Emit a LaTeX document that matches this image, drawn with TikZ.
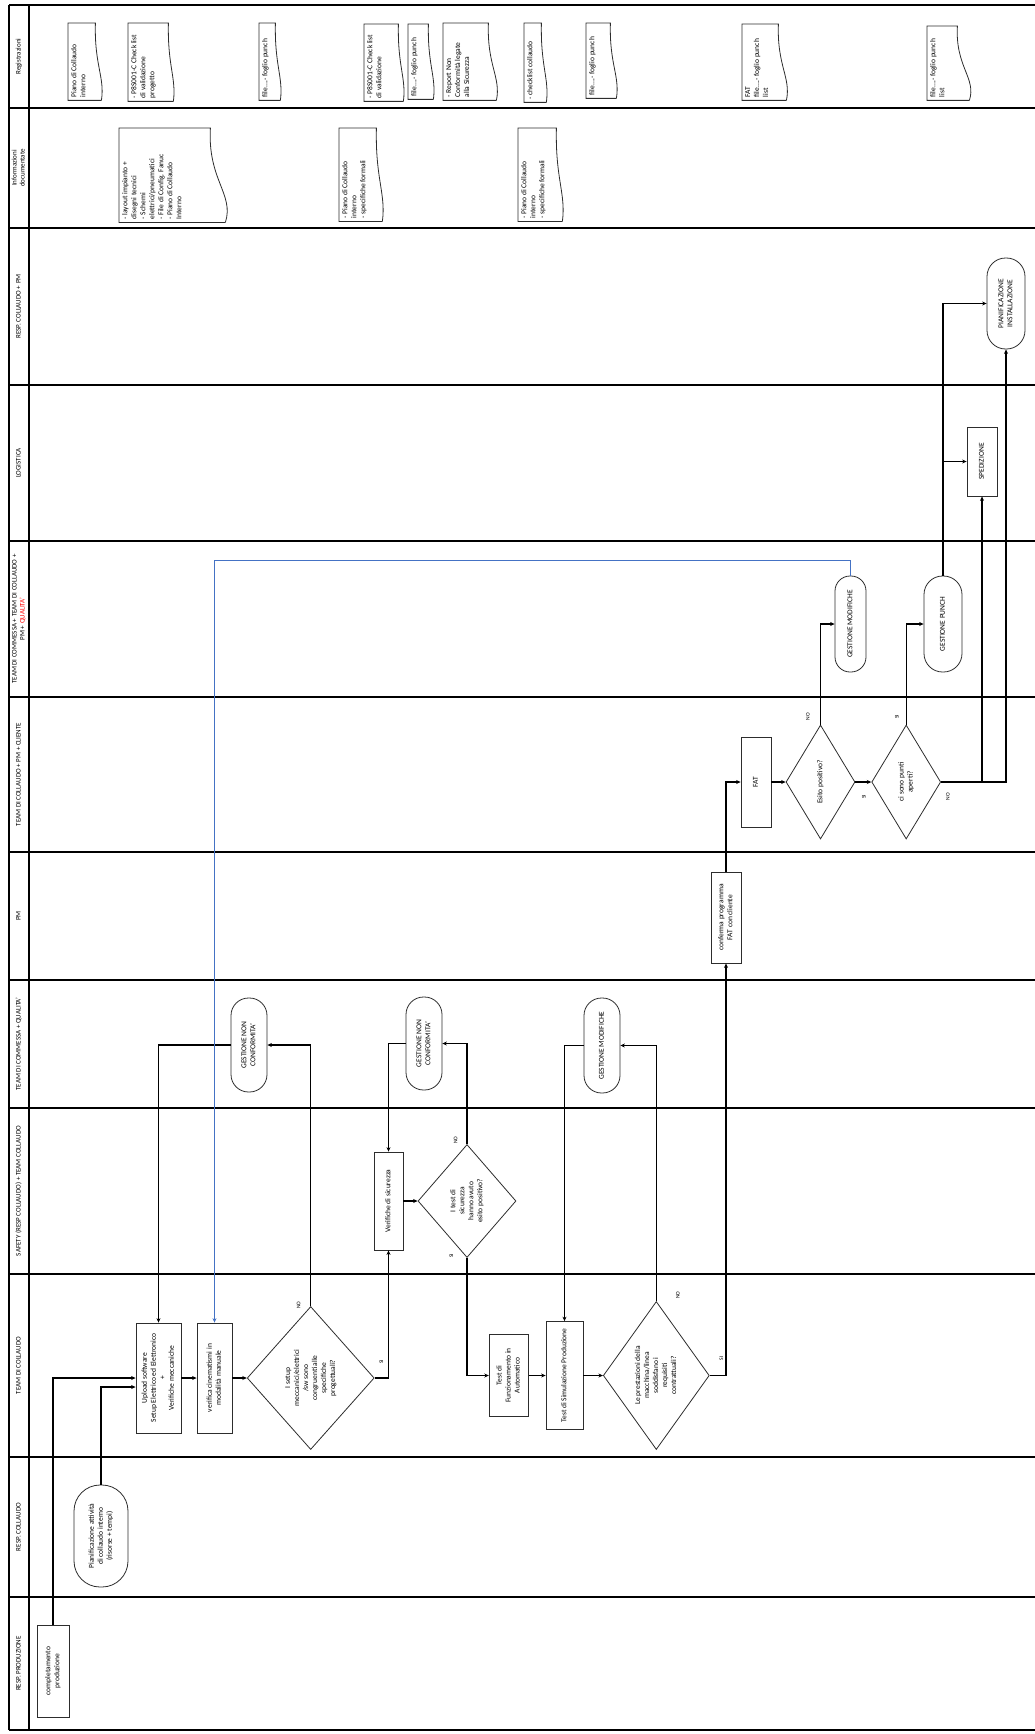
\documentclass[tikz,border=0pt]{standalone}
\usepackage{fontspec}
\setmainfont{Carlito}
\usepackage{xcolor}
\usepackage{graphicx}
\usepackage{tikz}
\usetikzlibrary{shapes.geometric, arrows.meta, calc}
\definecolor{mydark}{RGB}{0,0,0}
\definecolor{mygray}{RGB}{45,45,45}
\definecolor{myblue}{RGB}{68,114,196}
\definecolor{myred}{RGB}{255,0,0}
\newcommand{\rtext}[1]{\rotatebox{90}{\begin{tabular}{@{}c@{}}#1\end{tabular}}}
\newcommand{\doctxt}[3]{\rotatebox{90}{\parbox[c][#2pt][t]{#1pt}{\raggedright #3}}}
\tikzset{
  procbox/.style={rectangle, draw=mygray, fill=white, inner sep=1pt, line width=0.8pt},
  decision/.style={diamond, draw=mygray, fill=white, aspect=0.8, inner sep=0pt,
    line width=0.8pt},
  pill/.style={rectangle, draw=mygray, fill=white, inner sep=1pt, line width=0.8pt},
  docbox/.style={rectangle, anchor=north west, inner sep=3pt},
  docline/.style={draw=mygray, line width=0.8pt},
  lanelabel/.style={inner sep=0pt, font=\fontsize{7}{8}\selectfont},
  answer/.style={inner sep=0pt, font=\fontsize{5.5}{6.5}\selectfont},
  laneline/.style={line width=2.4pt, color=mydark},
  arrow/.style={-{Stealth[length=4.5pt, width=4pt]}, line width=1.3pt, color=mydark},
  bluearrow/.style={-{Stealth[length=4.5pt, width=4pt]}, line width=1.3pt, color=myblue}
}

\begin{document}
\begin{tikzpicture}[x=1pt, y=-1pt, font=\fontsize{7.5}{9}\selectfont, >=Stealth]
  \useasboundingbox (0,0) rectangle (1035,1734);

  % Swimlanes
  \foreach \y in {5,108,228,385,541,697,852,980,1108,1274,1457,1597,1730}
    \draw[laneline] (9,\y) -- (1035,\y);
  \draw[laneline] (9,5) -- (9,1730);
  \draw[laneline] (29,5) -- (29,1730);

  % Lane labels on left
  \node[lanelabel] (lreg) at (19,56.5) {\rtext{Registrazioni}};
  \node[lanelabel] (linf) at (19,168) {\rtext{Informazioni\\documentate}};
  \node[lanelabel] (lrpm) at (19,306.5) {\rtext{RESP. COLLAUDO + PM}};
  \node[lanelabel] (llog) at (19,463) {\rtext{LOGISTICA}};
  \node[lanelabel] (ltcq) at (19,619) {\rtext{TEAM DI COMMESSA + TEAM DI COLLAUDO +\\PM + \textcolor{myred}{QUALITA'}}};
  \node[lanelabel] (ltpc) at (19,774.5) {\rtext{TEAM DI COLLAUDO + PM + CLIENTE}};
  \node[lanelabel] (lpm) at (19,916) {\rtext{PM}};
  \node[lanelabel] (lcq) at (19,1044) {\rtext{TEAM DI COMMESSA + QUALITA'}};
  \node[lanelabel] (lsaf) at (19,1191) {\rtext{SAFETY (RESP COLLAUDO) + TEAM COLLAUDO}};
  \node[lanelabel] (ltc) at (19,1365.5) {\rtext{TEAM DI COLLAUDO}};
  \node[lanelabel] (lrc) at (19,1527) {\rtext{RESP. COLLAUDO}};
  \node[lanelabel] (lrp) at (19,1663.5) {\rtext{RESP. PRODUZIONE}};

  % Registrazioni
  \node[docbox, minimum width=27, minimum height=77] (reg1) at (68,23) {\doctxt{71}{21}{Piano di Collaudo\\interno}};
  \node[docbox, minimum width=40, minimum height=78] (reg2) at (128,23) {\doctxt{72}{34}{- P8S001-C Check list\\di validazione\\progetto}};
  \node[docbox, minimum width=16, minimum height=77] (reg3) at (259,23) {\doctxt{71}{10}{file....- foglio punch}};
  \node[docbox, minimum width=34, minimum height=77] (reg4) at (364,24) {\doctxt{71}{28}{- P8S001-C Check list\\di validazione}};
  \node[docbox, minimum width=20, minimum height=75] (reg5) at (408,24) {\doctxt{69}{14}{file....- foglio punch}};
  \node[docbox, minimum width=45, minimum height=77] (reg6) at (443,23) {\doctxt{71}{39}{- Report Non\\Conformità legate\\alla Sicurezza}};
  \node[docbox, minimum width=17, minimum height=79] (reg7) at (524,23) {\doctxt{73}{11}{- checklist collaudo}};
  \node[docbox, minimum width=24, minimum height=75] (reg8) at (586,23) {\doctxt{69}{18}{file....- foglio punch}};
  \node[docbox, minimum width=36, minimum height=76] (reg9) at (742,24) {\doctxt{70}{30}{FAT\\file....- foglio punch\\list}};
  \node[docbox, minimum width=30, minimum height=74] (reg10) at (927,26) {\doctxt{68}{24}{file....- foglio punch\\list}};

  % Informazioni documentate
  \node[docbox, minimum width=91, minimum height=94] (inf1) at (119,128) {\doctxt{88}{85}{- layout impianto +\\disegni tecnici\\- Schemi\\elettrici/pneumatici\\- File di Config. Fanuc\\- Piano di Collaudo\\Interno}};
  \node[docbox, minimum width=37, minimum height=93] (inf2) at (339,128) {\doctxt{87}{31}{- Piano di Collaudo\\interno\\- specifiche formali}};
  \node[docbox, minimum width=38, minimum height=93] (inf3) at (518,128) {\doctxt{87}{32}{- Piano di Collaudo\\interno\\- specifiche formali}};

  % Document outlines
  \foreach \n/\d in {reg1/6,reg2/5,reg3/5,reg4/5,reg5/5,reg6/8,reg7/5,reg8/6,reg9/8,reg10/12,inf1/15,inf2/6,inf3/6}
    \draw[docline] ($(\n.south east)+(\d,0)$) -- (\n.south west) -- (\n.north west) -- (\n.north east)
      .. controls ($(\n.north east)!0.55!(\n.south east)+(-0.2*\d,0)$) and ($(\n.south east)!0.3!(\n.north east)+(1.6*\d,0)$) .. ($(\n.south east)+(\d,0)$);

  % Production and planning
  \node[procbox, minimum width=32, minimum height=92] (compl) at (53,1671) {\rtext{completamento\\produzione}};
  \node[pill, rounded corners=26pt, minimum width=54, minimum height=102] (pianif) at (101,1536) {\rtext{Pianificazione attività\\di collaudo interno\\(risorse + tempi)}};

  % Team di collaudo
  \node[procbox, minimum width=45, minimum height=110] (upload) at (158.5,1378) {\rtext{Upload software\\Setup Elettrico ed Elettronico\\+\\Verifiche meccaniche}};
  \node[procbox, minimum width=35, minimum height=110] (cinem) at (214.5,1378) {\rtext{verifica cinematismi in\\modalità manuale}};
  \node[decision, minimum width=127, minimum height=143] (dec1) at (310.7,1378) {\rtext{I setup\\meccanici/elettrici\\/sw sono\\congruenti alle\\specifiche\\progettuali?}};
  \node[procbox, minimum width=39, minimum height=82] (tfunz) at (508.7,1375.5) {\rtext{Test di\\Funzionamento in\\Automatico}};
  \node[procbox, minimum width=37, minimum height=108] (tsim) at (564.5,1375.5) {\rtext{Test di Simulazione Produzione}};
  \node[decision, minimum width=106, minimum height=148] (dec3) at (656.3,1375.5) {\rtext{Le prestazioni della\\macchina/linea\\soddisfano i\\requisiti\\contrattuali?}};

  % Safety
  \node[procbox, minimum width=29, minimum height=98] (vsic) at (388.5,1201) {\rtext{Verifiche di sicurezza}};
  \node[decision, minimum width=98, minimum height=113] (dec2) at (467,1201) {\rtext{I test di\\sicurezza\\hanno avuto\\esito positivo?}};

  % Commessa + qualita'
  \node[pill, rounded corners=17.5pt, minimum width=36, minimum height=94] (gnc1) at (249,1045) {\rtext{GESTIONE NON\\CONFORMITA'}};
  \node[pill, rounded corners=17.5pt, minimum width=36, minimum height=93] (gnc2) at (424,1043.5) {\rtext{GESTIONE NON\\CONFORMITA'}};
  \node[pill, rounded corners=17.5pt, minimum width=36, minimum height=95] (gmod) at (602,1045.5) {\rtext{GESTIONE MODIFICHE}};

  % PM, FAT and after
  \node[procbox, minimum width=30, minimum height=91] (conf) at (726,917.5) {\rtext{conferma programma\\FAT con cliente}};
  \node[procbox, minimum width=30, minimum height=90] (fat) at (756,782) {\rtext{FAT}};
  \node[decision, minimum width=69, minimum height=114] (dec4) at (820.5,782) {\rtext{Esito positivo?}};
  \node[decision, minimum width=69, minimum height=114] (dec5) at (906.2,782) {\rtext{ci sono punti\\aperti?}};
  \node[pill, rounded corners=15pt, minimum width=31, minimum height=96] (gmod2) at (850.5,624) {\rtext{GESTIONE MODIFICHE}};
  \node[pill, rounded corners=18.5pt, minimum width=38, minimum height=96] (gpunch) at (943,624) {\rtext{GESTIONE PUNCH}};
  \node[procbox, minimum width=30, minimum height=69] (sped) at (982,461.5) {\rtext{SPEDIZIONE}};
  \node[pill, rounded corners=18.5pt, minimum width=38, minimum height=91] (pinst) at (1006,303.5) {\rtext{PIANIFICAZIONE\\INSTALLAZIONE}};

  % SI / NO
  \node[answer] (no1) at (299,1305) {\rtext{NO}};
  \node[answer] (si1) at (381.7,1361.7) {\rtext{SI}};
  \node[answer] (no2) at (456,1140) {\rtext{NO}};
  \node[answer] (si2) at (451.7,1256) {\rtext{SI}};
  \node[answer] (no3) at (678.3,1295) {\rtext{NO}};
  \node[answer] (si3) at (721.7,1358.3) {\rtext{SI}};
  \node[answer] (no4) at (808.3,716.7) {\rtext{NO}};
  \node[answer] (si4) at (864.3,796.7) {\rtext{SI}};
  \node[answer] (si5) at (897.3,716.7) {\rtext{SI}};
  \node[answer] (no5) at (948.3,796.7) {\rtext{NO}};

  % Connections
  \draw[arrow] (compl.north) |- (upload.west);
  \draw[arrow] (pianif.north) |- ([yshift=-9pt]upload.west);
  \draw[arrow] (upload.east) -- (cinem.west);
  \draw[arrow] (cinem.east) -- (dec1.west);
  \draw[arrow] (dec1.north) |- (gnc1.east);
  \draw[arrow] (gnc1.west) -| (upload.north);
  \draw[arrow] (dec1.east) -| (vsic.south);
  \draw[arrow] (vsic.east) -- (dec2.west);
  \draw[arrow] (dec2.north) |- (gnc2.east);
  \draw[arrow] (gnc2.west) -| (vsic.north);
  \draw[arrow] (dec2.south) |- (tfunz.west);
  \draw[arrow] (tfunz.east) -- (tsim.west);
  \draw[arrow] (tsim.east) -- (dec3.west);
  \draw[arrow] (dec3.north) |- (gmod.east);
  \draw[arrow] (gmod.west) -| (tsim.north);
  \draw[arrow] (dec3.east) -| (conf.south);
  \draw[arrow] (conf.north) |- (fat.west);
  \draw[arrow] (fat.east) -- (dec4.west);
  \draw[arrow] (dec4.east) -- (dec5.west);
  \draw[arrow] (dec4.north) |- (gmod2.west);
  \draw[arrow] (dec5.north) |- (gpunch.west);
  \draw[arrow] (dec5.east) -| (sped.south);
  \draw[arrow] (dec5.east) -| (pinst.south);
  \draw[arrow] (gpunch.north) |- (sped.west);
  \draw[arrow] (gpunch.north) |- (pinst.west);
  \draw[bluearrow] (gmod2.north) -- ++(0,-15) -| (cinem.north);
\end{tikzpicture}
\end{document}
